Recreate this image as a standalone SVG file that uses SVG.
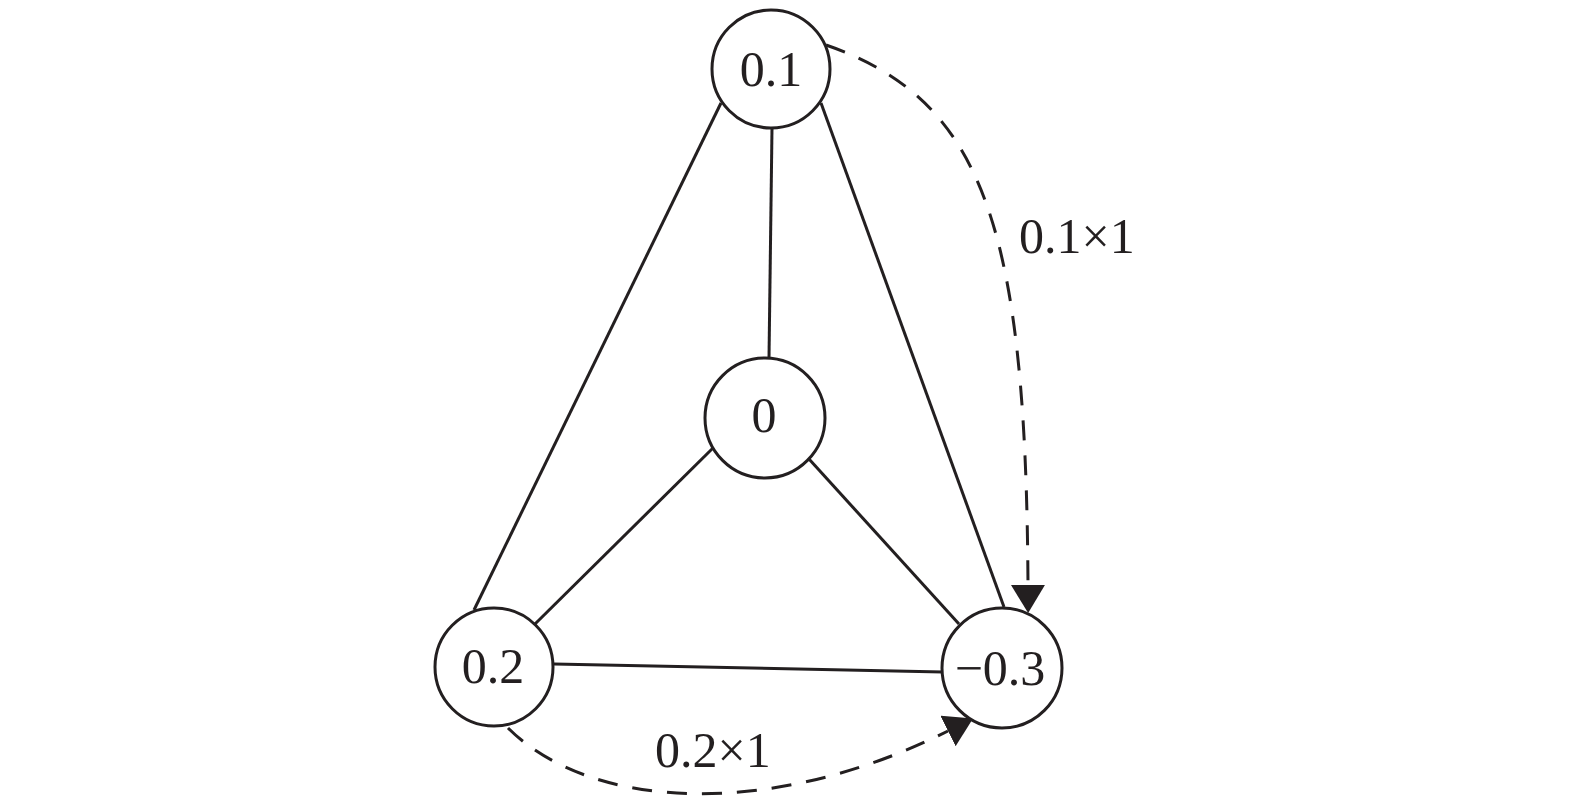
<svg xmlns="http://www.w3.org/2000/svg" width="1575" height="807" viewBox="0 0 1575 807">
<style>
.edge{stroke:#231f20;stroke-width:3;fill:none}
.dash{stroke:#231f20;stroke-width:3;fill:none;stroke-dasharray:20 15}
.node circle{fill:#fff;stroke:#231f20;stroke-width:3}
text{font-family:"Liberation Serif","Times New Roman",serif;font-size:50px;fill:#231f20}
.node text{text-anchor:middle}
</style>
<defs>
<marker id="arr" markerUnits="userSpaceOnUse" markerWidth="30" markerHeight="34" refX="0" refY="17" orient="auto" viewBox="0 0 30 34">
<path d="M0,0 L28,17 L0,34 Z" fill="#231f20"/>
</marker>
</defs>
<rect width="1575" height="807" fill="#fff"/>
<g id="connectors">
<line class="edge" x1="772" y1="128" x2="769" y2="358"/>
<line class="edge" x1="721" y1="103" x2="474" y2="610"/>
<line class="edge" x1="821" y1="103" x2="1004" y2="607"/>
<line class="edge" x1="713" y1="448" x2="535" y2="624"/>
<line class="edge" x1="809" y1="459" x2="959" y2="624"/>
<line class="edge" x1="554" y1="664" x2="943" y2="672"/>
<path class="dash" d="M826,45 C985,100 1026,230 1028,585" marker-end="url(#arr)"/>
<path class="dash" d="M508,728 C590,810 770,820 948,731" marker-end="url(#arr)"/>
<text x="1019" y="253">0.1×1</text>
<text x="655" y="767">0.2×1</text>
</g>
<g id="n01" class="node"><circle cx="771" cy="69" r="59"/><text x="771" y="86">0.1</text></g>
<g id="n0" class="node"><circle cx="765" cy="418" r="60"/><text x="764" y="432">0</text></g>
<g id="n02" class="node"><circle cx="494" cy="667" r="59"/><text x="493" y="683">0.2</text></g>
<g id="n03" class="node"><circle cx="1002" cy="668" r="60"/><text x="1000" y="685">−0.3</text></g>
</svg>
